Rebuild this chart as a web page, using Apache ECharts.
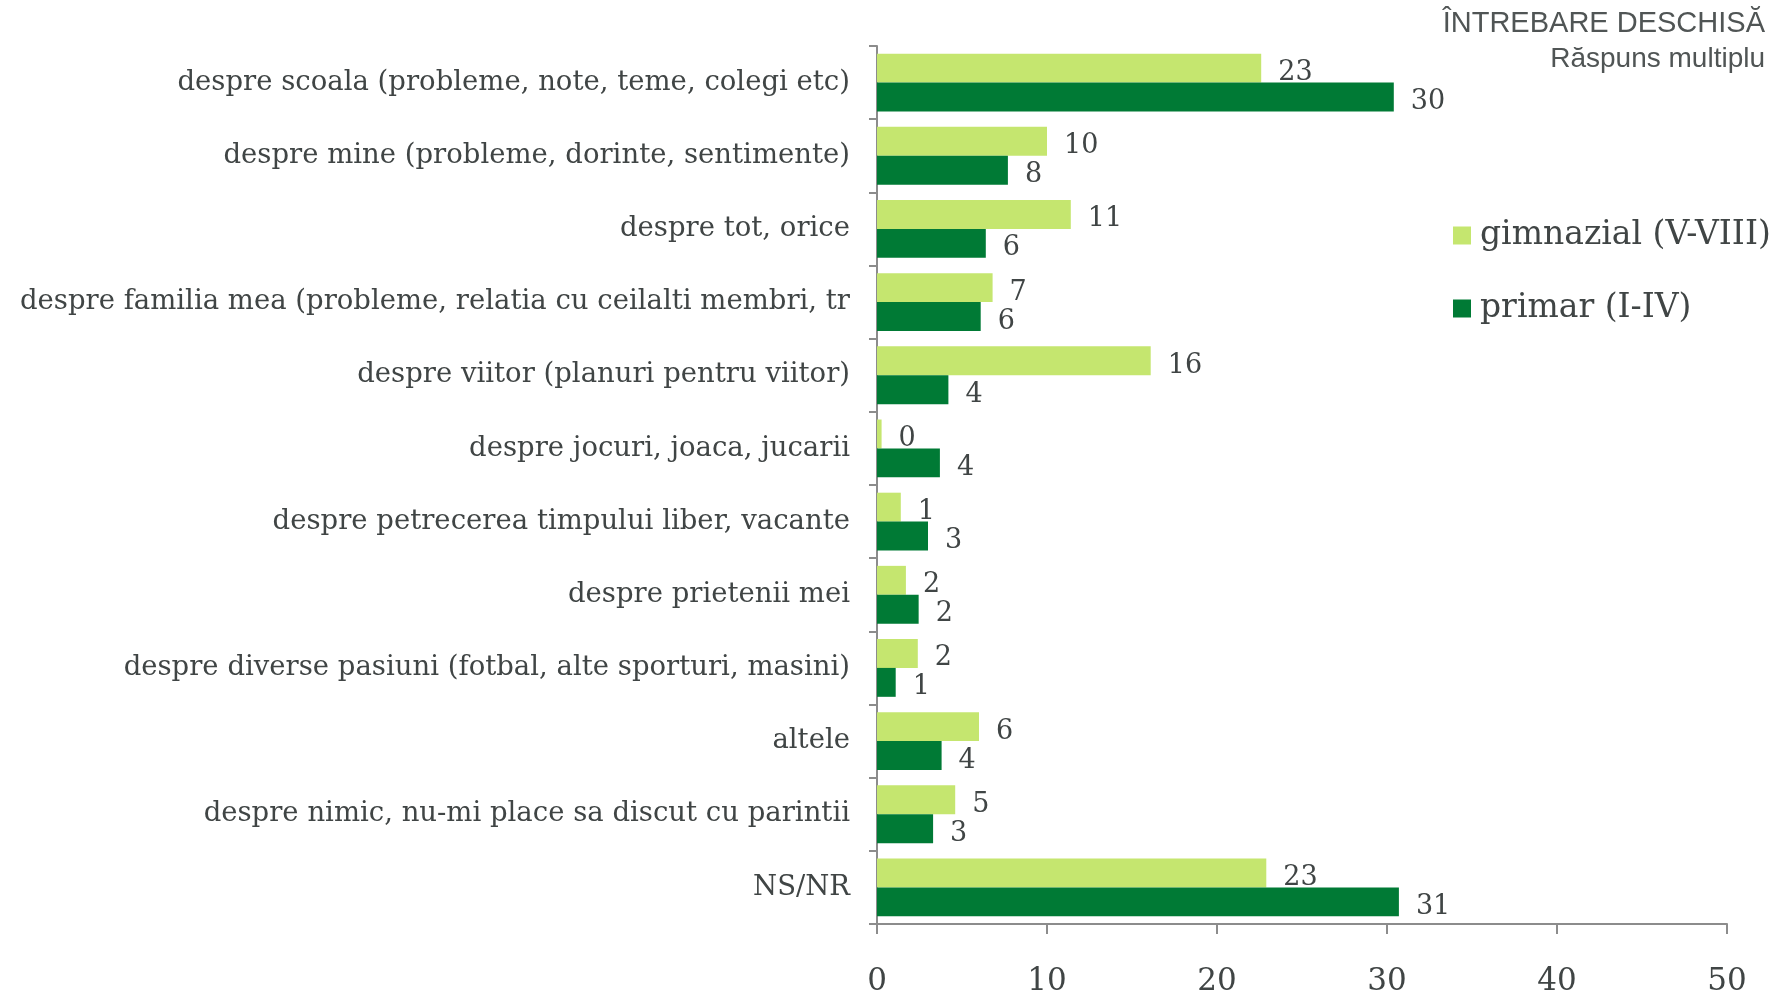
<!DOCTYPE html>
<html>
<head>
<meta charset="utf-8">
<script src="https://cdn.jsdelivr.net/npm/echarts@6/dist/echarts.min.js"></script>
<style>html,body{margin:0;padding:0;background:#fff}#c{width:1788px;height:997px}</style>
</head>
<body>
<div id="c"></div>
<script>
const categories = [
  "despre scoala (probleme, note, teme, colegi etc)",
  "despre mine (probleme, dorinte, sentimente)",
  "despre tot, orice",
  "despre familia mea (probleme, relatia cu ceilalti membri, tr",
  "despre viitor (planuri pentru viitor)",
  "despre jocuri, joaca, jucarii",
  "despre petrecerea timpului liber, vacante",
  "despre prietenii mei",
  "despre diverse pasiuni (fotbal, alte sporturi, masini)",
  "altele",
  "despre nimic, nu-mi place sa discut cu parintii",
  "NS/NR"
];
const gimnazial = [22.6, 10.0, 11.4, 6.8, 16.1, 0.27, 1.4, 1.7, 2.4, 6.0, 4.6, 22.9];
const primar    = [30.4, 7.7, 6.4, 6.1, 4.2, 3.7, 3.0, 2.45, 1.1, 3.8, 3.3, 30.7];
const seriesNames = ["gimnazial (V-VIII)", "primar (I-IV)"];
const xTicks = [0, 10, 20, 30, 40, 50];
const titleLines = ["ÎNTREBARE DESCHISĂ", "Răspuns multiplu"];

const serif = "DejaVu Serif";
const textColor = "#404545";
const chart = echarts.init(document.getElementById('c'));
const lbl = {
  show: true, position: 'right', distance: 17, offset: [0, 5],
  fontFamily: serif, fontSize: 27, color: textColor,
  formatter: p => Number(p.value).toFixed(0)
};
chart.setOption({
  animation: false,
  backgroundColor: '#fff',
  grid: { left: 877, right: 61, top: 46, bottom: 72, containLabel: false },
  legend: {
    orient: 'vertical', left: 1448, top: 214,
    itemWidth: 18, itemHeight: 18, itemGap: 40, icon: 'rect',
    textStyle: { fontFamily: serif, fontSize: 33, color: textColor, padding: [0, 0, 0, 4] },
    data: seriesNames
  },
  graphic: [
    { type: 'text', right: 23, top: 9, style: { text: titleLines[0], fontFamily: 'Liberation Sans', fontSize: 29, fill: '#505555', align: 'right' } },
    { type: 'text', right: 23, top: 45, style: { text: titleLines[1], fontFamily: 'Liberation Sans', fontSize: 28, fill: '#505555', align: 'right' } }
  ],
  xAxis: {
    type: 'value', min: 0, max: 50, interval: 10,
    axisLine: { show: true, lineStyle: { color: '#8c8c8c', width: 2 } },
    axisTick: { show: true, length: 10, lineStyle: { color: '#8c8c8c', width: 2 } },
    splitLine: { show: false },
    axisLabel: { margin: 42, fontFamily: serif, fontSize: 31, color: textColor,
      formatter: v => xTicks.includes(v) ? String(v) : '' }
  },
  yAxis: {
    type: 'category', data: categories, inverse: true,
    axisLine: { show: true, lineStyle: { color: '#8c8c8c', width: 2 } },
    axisTick: { show: true, length: 8, lineStyle: { color: '#8c8c8c', width: 2 } },
    axisLabel: { margin: 27, fontFamily: serif, fontSize: 27.5, color: textColor }
  },
  series: [
    { name: seriesNames[0], type: 'bar', data: gimnazial, barGap: '0%', barCategoryGap: '21%',
      itemStyle: { color: '#C5E66F' }, label: lbl },
    { name: seriesNames[1], type: 'bar', data: primar, barGap: '0%', barCategoryGap: '21%',
      itemStyle: { color: '#007A35' }, label: lbl }
  ]
});
</script>
</body>
</html>
